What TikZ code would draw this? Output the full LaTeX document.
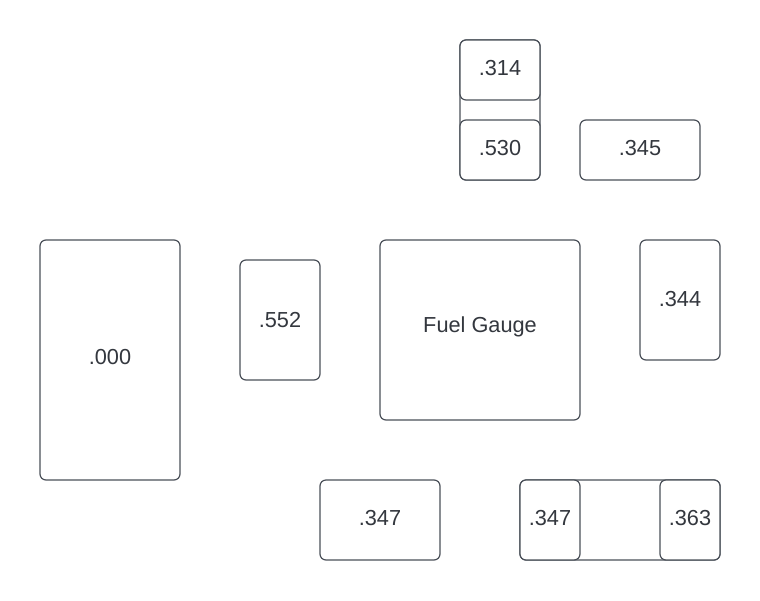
\documentclass[tikz,border=0pt]{standalone}
\usepackage{fontspec}
\setmainfont{Liberation Sans}
\definecolor{linec}{HTML}{4A5059}
\definecolor{textc}{HTML}{33373E}
\begin{document}
\begin{tikzpicture}[x=0.75pt,y=-0.75pt,
  box/.style={draw=linec,line width=0.9pt,rounded corners=4.5pt,fill=white},
  lbl/.style={text=textc,font=\fontsize{16.3}{19}\selectfont}]
\path[use as bounding box,fill=white] (0,0) rectangle (760,600);
% containers
\draw[box] (460,40) rectangle (540,180);
\draw[box] (520,480) rectangle (720,560);
% boxes
\draw[box] (40,240) rectangle (180,480);
\node[lbl] (n000) at (110,357) {.000};
\draw[box] (240,260) rectangle (320,380);
\node[lbl] (n552) at (280,320) {.552};
\draw[box] (380,240) rectangle (580,420);
\node[lbl] (fuel) at (480,327) {Fuel Gauge};
\draw[box] (640,240) rectangle (720,360);
\node[lbl] (n344) at (680,299) {.344};
\draw[box] (580,120) rectangle (700,180);
\node[lbl] (n345) at (640,148) {.345};
\draw[box] (460,40) rectangle (540,100);
\node[lbl] (n314) at (500,68) {.314};
\draw[box] (460,120) rectangle (540,180);
\node[lbl] (n530) at (500,148) {.530};
\draw[box] (320,480) rectangle (440,560);
\node[lbl] (n347a) at (380,518) {.347};
\draw[box] (520,480) rectangle (580,560);
\node[lbl] (n347b) at (550,518) {.347};
\draw[box] (660,480) rectangle (720,560);
\node[lbl] (n363) at (690,518) {.363};
\end{tikzpicture}
\end{document}
